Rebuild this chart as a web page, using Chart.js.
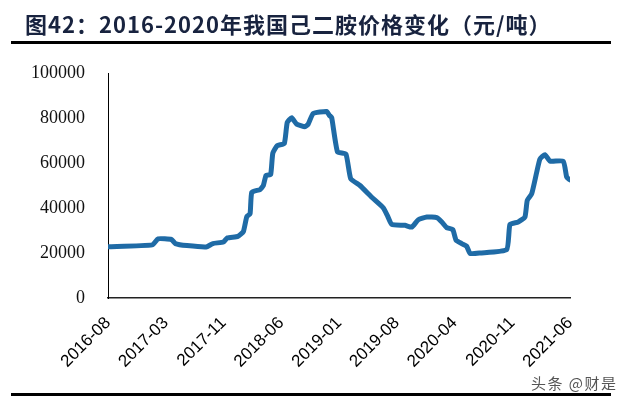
<!DOCTYPE html>
<html lang="zh">
<head>
  <meta charset="UTF-8">
  <title>己二胺价格变化</title>
  <script src="https://cdn.jsdelivr.net/npm/chart.js"></script>
  <style>
    body { margin: 0; background: #fff; }
    .page { position: relative; width: 628px; height: 404px; overflow: hidden; }
    .title {
      position: absolute; left: 25px; top: 12px;
      font-family: "Noto Sans CJK SC", sans-serif; font-weight: bold;
      font-size: 22px; line-height: 22px; letter-spacing: 1px; color: #18233f; white-space: nowrap;
    }
    .rule { position: absolute; left: 11px; width: 600px; height: 3px; background: #000; }
    .mark {
      position: absolute; left: 531px; top: 372px; letter-spacing: 1.5px;
      font-family: "Noto Sans CJK SC", sans-serif; font-size: 15px; color: #555;
    }
    #chartBox { position: absolute; left: 0; top: 0; width: 628px; height: 404px; }
  </style>
</head>
<body>
<div class="page">
  <div id="chartBox"><canvas id="c"></canvas></div>
  <div class="title">图42：2016-2020年我国己二胺价格变化（元/吨）</div>
  <div class="rule" style="top:41px"></div>
  <div class="rule" style="top:393px"></div>
  <div class="mark">头条 @财是</div>
</div>

<script>
  // tick labels along the x axis, one every 30 points of the week index
  const tickLabels = ['2016-08', '2017-03', '2017-11', '2018-06', '2019-01',
                      '2019-08', '2020-04', '2020-11', '2021-06'];
  const tickStep = 30;

  // week index (0 = 2016-08) where the price changes
  const weekIdx = [0, 23, 26, 33, 35, 41, 51, 54.5, 60, 62, 67.5, 70.3, 72.1, 73.8, 74.7,
                   79, 80.7, 82.1, 84.5, 85.6, 87.9, 91.6, 93.1, 95.4, 98, 102.3, 104,
                   106.6, 113.6, 115, 116.2, 119.2, 123.6, 126.1, 130.9, 137, 143, 145.1,
                   147.4, 154.3, 157.8, 161.2, 165.6, 170.8, 173.4, 175.9, 179.1, 180.8,
                   183.7, 186.3, 188.1, 193.2, 207.1, 208.8, 213.1, 216.6, 217.8, 220.1,
                   222.7, 224.4, 227, 229.6, 236.5, 238.3, 240];

  // price, yuan per tonne
  const prices = [22800, 23600, 26300, 26000, 24200, 23300, 22700, 24200, 24900, 26700,
                  27400, 29500, 36200, 37400, 47000, 48200, 50000, 54500, 54900, 64300,
                  67700, 68700, 78000, 80100, 77300, 76100, 77300, 82000, 82900, 81200,
                  80200, 65000, 64000, 53000, 50000, 44800, 40100, 36700, 32700, 32300,
                  31500, 34800, 36000, 35700, 33800, 31300, 30400, 25700, 24200, 23000,
                  19800, 20000, 21500, 32700, 33800, 36000, 43400, 46300, 55900, 61800,
                  63700, 60800, 60800, 53700, 52500];

  const points = weekIdx.map((w, i) => ({ x: w, y: prices[i] }));

  new Chart(document.getElementById('c'), {
    type: 'line',
    data: {
      datasets: [{
        data: points,
        borderColor: '#1f6ba6',
        borderWidth: 5,
        borderJoinStyle: 'round',
        borderCapStyle: 'round',
        pointRadius: 0,
        tension: 0.15,
        fill: false
      }]
    },
    options: {
      responsive: true,
      maintainAspectRatio: false,
      animation: false,
      layout: { padding: { left: 0, right: 58, top: 73, bottom: 0 } },
      plugins: { legend: { display: false }, tooltip: { enabled: false } },
      scales: {
        x: {
          type: 'linear',
          min: 0,
          max: tickStep * (tickLabels.length - 1),
          grid: { display: false, drawTicks: false },
          border: { display: true, color: '#222', width: 1.5 },
          afterBuildTicks: s => { s.ticks = tickLabels.map((_, i) => ({ value: i * tickStep })); },
          afterFit: s => { s.height = 106; },
          ticks: {
            autoSkip: false,
            maxRotation: 45,
            minRotation: 45,
            padding: 15,
            color: '#000',
            font: { family: '"Liberation Sans", Arial, sans-serif', size: 17 },
            callback: v => tickLabels[Math.round(v / tickStep)]
          }
        },
        y: {
          min: 0,
          max: 100000,
          grid: { display: false, drawTicks: false },
          border: { display: true, color: '#000', width: 1 },
          afterFit: s => { s.width = 108; },
          ticks: {
            stepSize: 20000,
            padding: 23,
            color: '#111',
            font: { family: '"Liberation Serif", "Times New Roman", serif', size: 18 },
            callback: v => String(v)
          }
        }
      }
    }
  });
</script>
</body>
</html>
